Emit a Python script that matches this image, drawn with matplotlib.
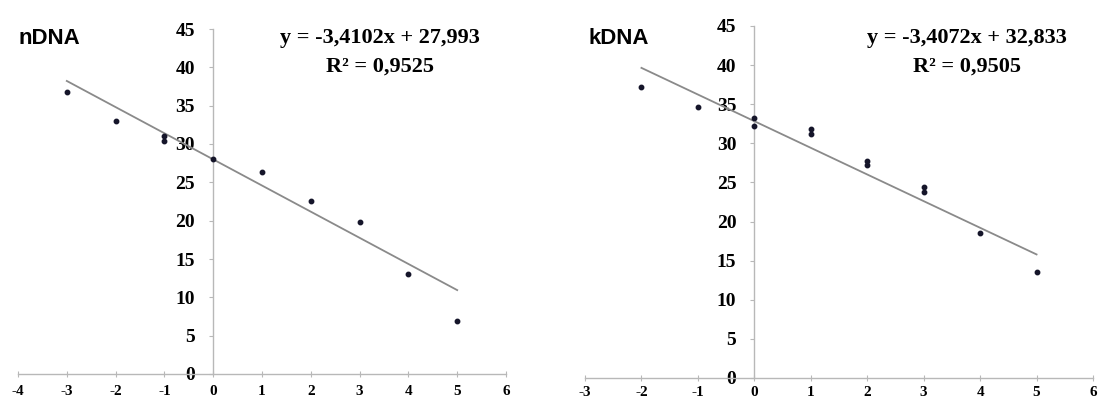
import matplotlib
matplotlib.use("Agg")
import matplotlib.pyplot as plt
import numpy as np

# ---- data ----
n_x = [-3, -2, -1, -1, 0, 1, 2, 3, 4, 5]
n_y = [36.8, 33.0, 31.0, 30.4, 28.0, 26.3, 22.6, 19.8, 13.1, 6.9]
n_slope, n_icpt = -3.4102, 27.993
n_eq = "y = -3,4102x + 27,993"
n_r2 = "R² = 0,9525"

k_x = [-2, -1, 0, 0, 1, 1, 2, 2, 3, 3, 4, 5]
k_y = [37.2, 34.6, 33.2, 32.2, 31.8, 31.2, 27.8, 27.2, 24.4, 23.8, 18.5, 13.6]
k_slope, k_icpt = -3.4072, 32.833
k_eq = "y = -3,4072x + 32,833"
k_r2 = "R² = 0,9505"

y_ticks = [0, 5, 10, 15, 20, 25, 30, 35, 40, 45]
n_xticks = [-4, -3, -2, -1, 0, 1, 2, 3, 4, 5, 6]
k_xticks = [-3, -2, -1, 0, 1, 2, 3, 4, 5, 6]

W, H = 1105, 401
fig = plt.figure(figsize=(W / 100, H / 100), dpi=100)
fig.patch.set_facecolor("white")

AX_COL = "#b8b8b8"
SERIF = ["Liberation Serif", "DejaVu Serif"]
SANS = ["Liberation Sans", "DejaVu Sans"]


def px_axes(x0, x1, y_top, y_bot):
    return fig.add_axes([x0 / W, (H - y_bot) / H, (x1 - x0) / W, (y_bot - y_top) / H])


def style(ax, xt, xlim, xpad):
    ax.set_xlim(*xlim)
    ax.set_ylim(0, 45)
    for s in ("top", "right"):
        ax.spines[s].set_visible(False)
    ax.spines["left"].set_position(("data", 0))
    ax.spines["bottom"].set_position(("data", 0))
    for s in ("left", "bottom"):
        ax.spines[s].set_color(AX_COL)
        ax.spines[s].set_linewidth(1.0)
    ax.set_xticks(xt)
    ax.set_yticks(y_ticks)
    ax.set_xticklabels([str(v) for v in xt], fontfamily=SERIF, fontweight="bold", fontsize=11)
    ax.set_yticklabels([str(v) for v in y_ticks], fontfamily=SERIF, fontweight="bold", fontsize=14)
    ax.tick_params(axis="x", direction="inout", length=4, width=0.8, color=AX_COL, pad=xpad)
    ax.tick_params(axis="y", direction="out", length=3, width=0.8, color=AX_COL, pad=10)
    ax.patch.set_alpha(0)


def panel(ax, xs, ys, slope, icpt):
    lx = np.array([min(xs), max(xs)], dtype=float)
    ax.plot(lx, slope * lx + icpt, color="#8a8a8a", lw=1.3, zorder=2)
    ax.plot(xs, ys, linestyle="none", marker="o", markersize=3.2,
            color="#15152a", zorder=3, clip_on=False)


ax1 = px_axes(18, 506, 29, 374)
style(ax1, n_xticks, (-4, 6), 6)
panel(ax1, n_x, n_y, n_slope, n_icpt)

ax2 = px_axes(585, 1093, 26, 378)
style(ax2, k_xticks, (-3, 6), 4)
panel(ax2, k_x, k_y, k_slope, k_icpt)

# panel titles
fig.text(18 / W, 1 - 39 / H, "nDNA", fontfamily=SANS, fontweight="bold", fontsize=16,
         ha="left", va="center")
fig.text(588 / W, 1 - 39 / H, "kDNA", fontfamily=SANS, fontweight="bold", fontsize=16,
         ha="left", va="center")

# regression equations
fig.text(380 / W, 1 - 38 / H, n_eq, fontfamily=SERIF, fontweight="bold", fontsize=16,
         ha="center", va="center")
fig.text(380 / W, 1 - 67 / H, n_r2, fontfamily=SERIF, fontweight="bold", fontsize=16,
         ha="center", va="center")
fig.text(967 / W, 1 - 38 / H, k_eq, fontfamily=SERIF, fontweight="bold", fontsize=16,
         ha="center", va="center")
fig.text(967 / W, 1 - 67 / H, k_r2, fontfamily=SERIF, fontweight="bold", fontsize=16,
         ha="center", va="center")

fig.savefig("out.png", dpi=100, facecolor="white")
